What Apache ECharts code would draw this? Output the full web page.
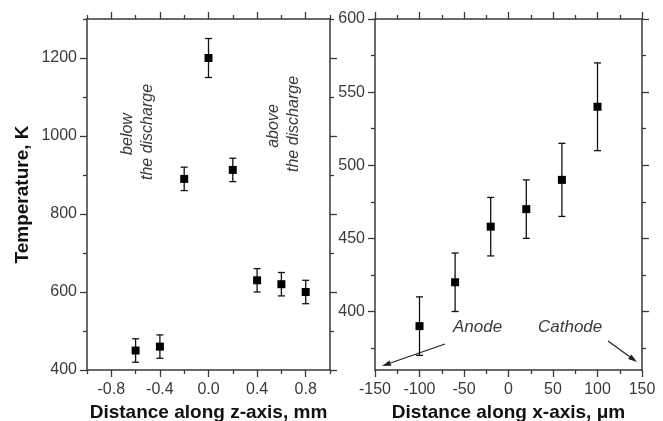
<!DOCTYPE html>
<html>
<head>
<meta charset="utf-8">
<script src="https://cdn.jsdelivr.net/npm/echarts@6/dist/echarts.min.js"></script>
<style>
html,body{margin:0;padding:0;background:#fff;}
#chart{width:663px;height:421px;}
</style>
</head>
<body>
<div id="chart"></div>
<script>
// Left panel: temperature along z-axis
var zPos = [-0.6, -0.4, -0.2, 0.0, 0.2, 0.4, 0.6, 0.8];
var zTemp = [450, 460, 890, 1200, 913, 630, 620, 600];
var zErr = [30, 30, 30, 50, 30, 30, 30, 30];
// Right panel: temperature along x-axis
var xPos = [-100, -60, -20, 20, 60, 100];
var xTemp = [390, 420, 458, 470, 490, 540];
var xErr = [20, 20, 20, 20, 25, 30];
// Tick values
var zMajorX = [-0.8, -0.4, 0.0, 0.4, 0.8];
var zMinorX = [-1.0, -0.6, -0.2, 0.2, 0.6, 1.0];
var zMajorY = [400, 600, 800, 1000, 1200];
var zMinorY = [500, 700, 900, 1100, 1300];
var xMajorX = [-150, -100, -50, 0, 50, 100, 150];
var xMinorX = [-125, -75, -25, 25, 75, 125];
var xMajorY = [400, 450, 500, 550, 600];
var xMinorY = [375, 425, 475, 525, 575];

var FONT = 'Liberation Sans, Arial, sans-serif';
var AX = '#3a3a3a';
var LBL = '#3a3a3a';

function axisBase(type, grid, pos, min, max, vals, len, showLabel, showLine, fmt, extra) {
  var a = {
    type: 'value', gridIndex: grid, position: pos, min: min, max: max,
    splitLine: {show: false},
    axisLine: {show: showLine, onZero: false, lineStyle: {color: AX, width: 1.5}},
    axisTick: {show: true, inside: false, length: len, customValues: vals, lineStyle: {color: AX, width: 1.3}},
    axisLabel: {show: showLabel, customValues: vals, fontFamily: FONT, fontSize: 16, color: LBL, margin: type === 'x' ? 12 : 10, formatter: fmt}
  };
  if (extra) for (var k in extra) a[k] = extra[k];
  return a;
}
function fmt1(v){ return v.toFixed(1); }
function fmt0(v){ return String(Math.round(v)); }

var nameStyle = {fontFamily: FONT, fontSize: 19, fontWeight: 'bold', color: '#111'};

var xAxes = [
  axisBase('x', 0, 'bottom', -1, 1, zMajorX, 7, true, true, fmt1,
    {name: 'Distance along z-axis, mm', nameLocation: 'middle', nameGap: 31, nameTextStyle: nameStyle}),
  axisBase('x', 0, 'bottom', -1, 1, zMinorX, 4, false, false, fmt1),
  axisBase('x', 0, 'top', -1, 1, zMajorX, 7, false, true, fmt1),
  axisBase('x', 0, 'top', -1, 1, zMinorX, 4, false, false, fmt1),
  axisBase('x', 1, 'bottom', -150, 150, xMajorX, 7, true, true, fmt0,
    {name: 'Distance along x-axis, \u03bcm', nameLocation: 'middle', nameGap: 31, nameTextStyle: nameStyle}),
  axisBase('x', 1, 'bottom', -150, 150, xMinorX, 4, false, false, fmt0),
  axisBase('x', 1, 'top', -150, 150, xMajorX, 7, false, true, fmt0),
  axisBase('x', 1, 'top', -150, 150, xMinorX, 4, false, false, fmt0)
];
var yAxes = [
  axisBase('y', 0, 'left', 400, 1300, zMajorY, 7, true, true, fmt0,
    {name: 'Temperature, K', nameLocation: 'middle', nameGap: 55, nameTextStyle: nameStyle}),
  axisBase('y', 0, 'left', 400, 1300, zMinorY, 4, false, false, fmt0),
  axisBase('y', 0, 'right', 400, 1300, zMajorY, 7, false, true, fmt0),
  axisBase('y', 0, 'right', 400, 1300, zMinorY, 4, false, false, fmt0),
  axisBase('y', 1, 'left', 360, 600, xMajorY, 7, true, true, fmt0),
  axisBase('y', 1, 'left', 360, 600, xMinorY, 4, false, false, fmt0),
  axisBase('y', 1, 'right', 360, 600, xMajorY, 7, false, true, fmt0),
  axisBase('y', 1, 'right', 360, 600, xMinorY, 4, false, false, fmt0)
];

function errData(xs, ys, es) {
  return xs.map(function(x, i){ return [x, ys[i] - es[i], ys[i] + es[i]]; });
}
function errRender(params, api) {
  var lo = api.coord([api.value(0), api.value(1)]);
  var hi = api.coord([api.value(0), api.value(2)]);
  var w = 3.5;
  var st = {stroke: '#111', lineWidth: 1.3};
  return {type: 'group', children: [
    {type: 'line', shape: {x1: lo[0], y1: lo[1], x2: hi[0], y2: hi[1]}, style: st},
    {type: 'line', shape: {x1: lo[0]-w, y1: lo[1], x2: lo[0]+w, y2: lo[1]}, style: st},
    {type: 'line', shape: {x1: hi[0]-w, y1: hi[1], x2: hi[0]+w, y2: hi[1]}, style: st}
  ]};
}
function pts(xs, ys){ return xs.map(function(x,i){ return [x, ys[i]]; }); }

function arrow(x1, y1, x2, y2) {
  var dx = x2 - x1, dy = y2 - y1, L = Math.sqrt(dx*dx + dy*dy);
  var ux = dx / L, uy = dy / L, px = -uy, py = ux;
  var hl = 9, hw = 2.8;
  var bx = x2 - hl*ux, by = y2 - hl*uy;
  return [
    {type: 'line', shape: {x1: x1, y1: y1, x2: bx, y2: by}, style: {stroke: '#222', lineWidth: 1.2}},
    {type: 'polygon', shape: {points: [[x2, y2], [bx + hw*px, by + hw*py], [bx - hw*px, by - hw*py]]}, style: {fill: '#222'}}
  ];
}
function vtext(x, y, t) {
  return {type: 'text', x: x, y: y, rotation: Math.PI/2,
    style: {text: t, fontFamily: FONT, fontSize: 16, fontStyle: 'italic', fill: LBL, align: 'center', verticalAlign: 'middle'}};
}
function htext(x, y, t) {
  return {type: 'text', x: x, y: y,
    style: {text: t, fontFamily: FONT, fontSize: 17, fontStyle: 'italic', fill: LBL, align: 'left', verticalAlign: 'middle'}};
}

var graphics = [
  vtext(128, 134, 'below'), vtext(148, 132, 'the discharge'),
  vtext(274, 126, 'above'), vtext(294, 124, 'the discharge'),
  htext(453, 327, 'Anode'), htext(538, 327, 'Cathode')
].concat(arrow(445, 344, 382, 366)).concat(arrow(608, 341, 637, 362));

var option = {
  backgroundColor: '#fff',
  animation: false,
  grid: [
    {left: 87, top: 19, width: 243, height: 351, outerBoundsMode: 'none', containLabel: false},
    {left: 375, top: 19, width: 267, height: 351, outerBoundsMode: 'none', containLabel: false}
  ],
  xAxis: xAxes,
  yAxis: yAxes,
  series: [
    {type: 'custom', xAxisIndex: 0, yAxisIndex: 0, data: errData(zPos, zTemp, zErr), renderItem: errRender, encode: {x: 0, y: [1, 2]}, z: 2},
    {type: 'scatter', xAxisIndex: 0, yAxisIndex: 0, data: pts(zPos, zTemp), symbol: 'rect', symbolSize: 8, itemStyle: {color: '#000', opacity: 1}, z: 3},
    {type: 'custom', xAxisIndex: 4, yAxisIndex: 4, data: errData(xPos, xTemp, xErr), renderItem: errRender, encode: {x: 0, y: [1, 2]}, z: 2},
    {type: 'scatter', xAxisIndex: 4, yAxisIndex: 4, data: pts(xPos, xTemp), symbol: 'rect', symbolSize: 8, itemStyle: {color: '#000', opacity: 1}, z: 3}
  ],
  graphic: graphics
};
echarts.init(document.getElementById('chart'), null, {renderer: 'canvas'}).setOption(option);
</script>
</body>
</html>
